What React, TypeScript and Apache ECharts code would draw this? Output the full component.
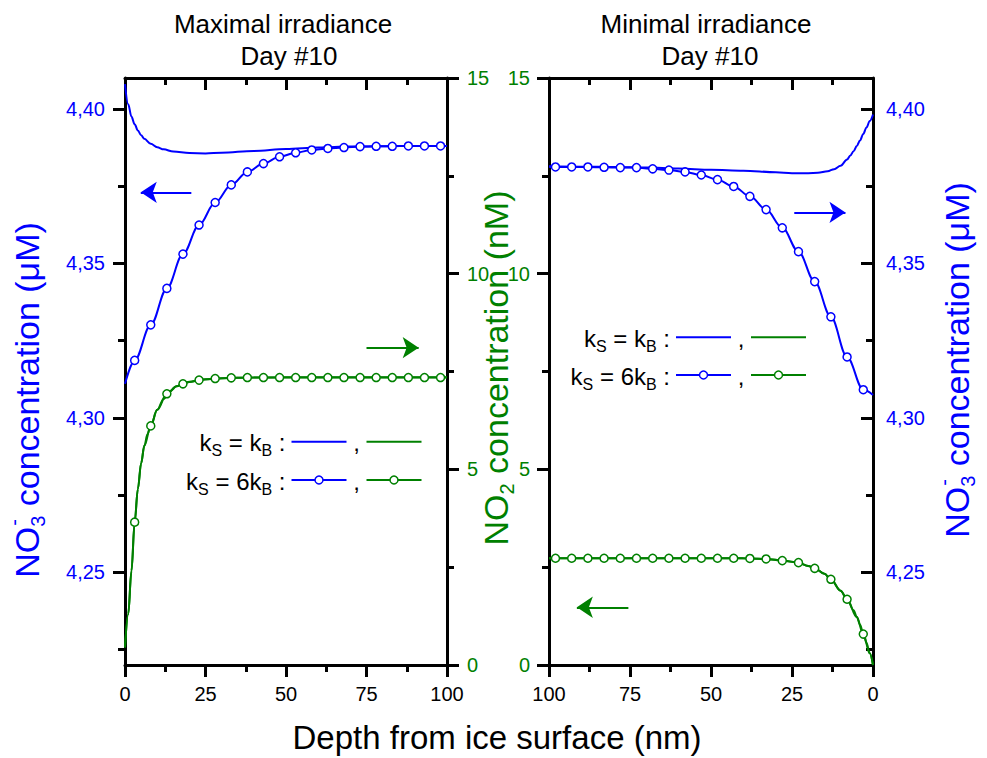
import React, { useEffect, useRef } from 'react';
import * as echarts from 'echarts';

const BLUE = '#0000ff';
const GREEN = '#008000';
const FONT = "'Liberation Sans', Arial, Helvetica, sans-serif";

// ---------- tick values ----------
const no3TickValues = [4.25, 4.3, 4.35, 4.4];
const no3MinorTickValues = [4.225, 4.275, 4.325, 4.375];
// depths (nm) where the ks = 6kB curves carry an open circle
const depthCircles = [3, 8, 13, 18, 23, 28, 33, 38, 43, 48, 53, 58, 63, 68, 73, 78, 83, 88, 93, 98];

// ---------- Maximal irradiance, Day #10 ----------
const maxNo3KbDepth = [0, 1, 2, 3, 4, 5, 6, 8, 10, 12, 15, 20, 25, 30, 40, 50, 60, 70, 80, 90, 100];
const maxNo3Kb = [4.408, 4.4015, 4.3975, 4.395, 4.393, 4.3915, 4.3903, 4.3887, 4.3876, 4.3869, 4.3862, 4.3857, 4.3856, 4.3858, 4.3864, 4.387, 4.3875, 4.3878, 4.3879, 4.388, 4.388];
const maxNo36KbDepth = [0, 3, 8, 13, 18, 23, 28, 33, 38, 43, 48, 53, 58, 63, 68, 73, 78, 83, 88, 93, 98, 100];
const maxNo36Kb = [4.311, 4.3186, 4.3301, 4.3419, 4.353, 4.3624, 4.3697, 4.3754, 4.3796, 4.3823, 4.3845, 4.3858, 4.3867, 4.3872, 4.3875, 4.3878, 4.3879, 4.3879, 4.388, 4.388, 4.388, 4.388];
const maxNo2KbDepth = [0, 1, 2, 3, 4, 5, 6, 7, 8, 10, 12, 14, 16, 18, 20, 25, 30, 40, 50, 60, 70, 80, 90, 100];
const maxNo2Kb = [0.45, 1.3, 2.4, 3.65, 4.5, 5.15, 5.6, 5.9, 6.12, 6.52, 6.8, 7.0, 7.12, 7.19, 7.24, 7.3, 7.33, 7.345, 7.35, 7.35, 7.35, 7.35, 7.35, 7.35];
const maxNo26KbDepth = [0, 1, 2, 3, 4, 5, 6, 8, 10, 13, 16, 18, 20, 23, 28, 33, 38, 43, 48, 53, 58, 63, 68, 73, 78, 83, 88, 93, 98, 100];
const maxNo26Kb = [0.45, 1.3, 2.4, 3.65, 4.5, 5.15, 5.6, 6.11, 6.52, 6.93, 7.12, 7.185, 7.23, 7.28, 7.32, 7.338, 7.346, 7.346, 7.346, 7.346, 7.346, 7.346, 7.346, 7.346, 7.346, 7.346, 7.346, 7.346, 7.346, 7.346];

// ---------- Minimal irradiance, Day #10 ----------
const minNo3KbDepth = [0, 1, 2, 3, 4, 5, 6, 7, 8, 10, 12, 14, 17, 20, 25, 30, 40, 50, 60, 70, 80, 90, 100];
const minNo3Kb = [4.3982, 4.3961, 4.394, 4.3919, 4.3898, 4.388, 4.3863, 4.3849, 4.3836, 4.3816, 4.3805, 4.3798, 4.3793, 4.3792, 4.3792, 4.3795, 4.38, 4.3803, 4.3807, 4.381, 4.3812, 4.3813, 4.3814];
const minNo36KbDepth = [0, 3, 8, 13, 18, 23, 28, 33, 38, 43, 48, 53, 58, 63, 68, 73, 78, 83, 88, 93, 98, 100];
const minNo36Kb = [4.3074, 4.3091, 4.3197, 4.3327, 4.3441, 4.3538, 4.3615, 4.3674, 4.3717, 4.3749, 4.3771, 4.3786, 4.3796, 4.3802, 4.3806, 4.381, 4.381, 4.3811, 4.3812, 4.3812, 4.3812, 4.3813];
const minNo2KbDepth = [0, 1, 2, 3, 4, 5, 6, 8, 10, 13, 15, 18, 20, 23, 25, 28, 30, 35, 40, 50, 60, 70, 80, 90, 100];
const minNo2Kb = [0.0, 0.3, 0.56, 0.8, 1.03, 1.23, 1.4, 1.68, 1.9, 2.19, 2.33, 2.47, 2.53, 2.61, 2.64, 2.67, 2.69, 2.715, 2.725, 2.73, 2.73, 2.73, 2.73, 2.73, 2.73];
const minNo26KbDepth = [0, 1, 3, 5, 8, 10, 13, 15, 18, 20, 23, 28, 33, 38, 43, 48, 53, 58, 63, 68, 73, 78, 83, 88, 93, 98, 100];
const minNo26Kb = [0.0, 0.3, 0.79, 1.22, 1.68, 1.9, 2.19, 2.33, 2.47, 2.53, 2.616, 2.667, 2.71, 2.722, 2.728, 2.728, 2.728, 2.728, 2.728, 2.728, 2.728, 2.728, 2.728, 2.728, 2.728, 2.728, 2.728];

// ---------- arrows [fromDepth, fromValue, toDepth, toValue] ----------
const arrowMaxNo3 = [20.6, 4.373, 4.9, 4.373];
const arrowMaxNo2 = [75, 8.11, 91.2, 8.11];
const arrowMinNo3 = [24.3, 4.3665, 8.5, 4.3665];
const arrowMinNo2 = [75.5, 1.475, 91.4, 1.475];

const fmtNo3 = (v: number) => v.toFixed(2).replace('.', ',');

function measure(text: string, size: number) {
  const ctx = document.createElement('canvas').getContext('2d')!;
  ctx.font = `${size}px ${FONT}`;
  return ctx.measureText(text).width;
}

const axisLine = { show: true, onZero: false, lineStyle: { color: '#000', width: 3 } };
const tickStyle = { color: '#000', width: 3 };

function xAxis(grid: number, pos: 'top' | 'bottom', inverse: boolean) {
  const bottom = pos === 'bottom';
  return {
    type: 'value', gridIndex: grid, position: pos, min: 0, max: 100, interval: 25, inverse,
    axisLine,
    axisTick: { show: true, inside: !bottom, length: 12, lineStyle: tickStyle },
    minorTick: { show: true, splitNumber: 2, length: 7, lineStyle: tickStyle },
    axisLabel: { show: bottom, color: '#000', fontSize: 20, fontFamily: FONT, margin: 19 },
    splitLine: { show: false },
  };
}

function no2Axis(grid: number, pos: 'left' | 'right', margin: number) {
  return {
    type: 'value', gridIndex: grid, position: pos, min: 0, max: 15, interval: 5,
    axisLine,
    axisTick: { show: true, inside: false, length: 12, lineStyle: tickStyle },
    minorTick: { show: true, splitNumber: 2, length: 7, lineStyle: tickStyle },
    axisLabel: { color: GREEN, fontSize: 20, fontFamily: FONT, margin },
    splitLine: { show: false },
  };
}

function no3Axis(grid: number, pos: 'left' | 'right', inside: boolean, margin: number) {
  return {
    type: 'value', gridIndex: grid, position: pos, min: 4.22, max: 4.41,
    axisLine,
    axisTick: { show: true, inside, length: 12, lineStyle: tickStyle, customValues: no3TickValues },
    axisLabel: { show: true, customValues: no3TickValues, formatter: fmtNo3, color: BLUE, fontSize: 20, fontFamily: FONT, margin },
    splitLine: { show: false },
  };
}

function no3MinorAxis(grid: number, pos: 'left' | 'right', inside: boolean) {
  return {
    type: 'value', gridIndex: grid, position: pos, min: 4.22, max: 4.41,
    axisLine: { show: false, onZero: false },
    axisTick: { show: true, inside, length: 7, lineStyle: tickStyle, customValues: no3MinorTickValues },
    axisLabel: { show: false },
    splitLine: { show: false },
  };
}

function curve(xIdx: number, yIdx: number, xs: number[], ys: number[], color: string, circles: boolean, arrow?: number[]) {
  const s: any = {
    type: 'line', xAxisIndex: xIdx, yAxisIndex: yIdx,
    smooth: 0.35, smoothMonotone: 'x', showAllSymbol: true,
    symbol: 'circle', symbolSize: 8,
    itemStyle: { color: '#fff', borderColor: color, borderWidth: 1.5 },
    lineStyle: { color, width: 2 },
    silent: true, emphasis: { disabled: true },
    data: xs.map((x, i) =>
      circles && depthCircles.includes(x) ? { value: [x, ys[i]] } : { value: [x, ys[i]], symbol: 'none' }
    ),
  };
  if (arrow) {
    s.markLine = {
      silent: true, symbol: ['none', 'arrow'], symbolSize: 16,
      label: { show: false }, emphasis: { disabled: true },
      lineStyle: { color, width: 2, type: 'solid' },
      itemStyle: { color },
      data: [[{ coord: [arrow[0], arrow[1]] }, { coord: [arrow[2], arrow[3]] }]],
    };
  }
  return s;
}

function txt(x: number, y: number, text: string, size: number, color = '#000', align = 'center') {
  return {
    type: 'text', x, y, silent: true,
    style: { text, fontSize: size, fontFamily: FONT, fill: color, align, textAlign: align, verticalAlign: 'middle', textVerticalAlign: 'middle' },
  };
}

function rotTitle(cx: number, cy: number, sub: string, rest: string, color: string, minus: boolean) {
  const F = 34, S = 20;
  const wNO = measure('NO', F);
  const wSub = measure(sub, S);
  const wSp = measure(' ', F);
  const wRest = measure(rest, F);
  const total = wNO + wSub + wSp + wRest;
  const x0 = -total / 2;
  const children: any[] = [
    txt(x0, 0, 'NO', F, color, 'left'),
    txt(x0 + wNO, 11, sub, S, color, 'left'),
    txt(x0 + wNO + wSub + wSp, 0, rest, F, color, 'left'),
  ];
  if (minus) children.push(txt(x0 + wNO + 1, -13, '-', S, color, 'left'));
  return { type: 'group', x: cx, y: cy, rotation: Math.PI / 2, silent: true, children };
}

// "k_S = k_B :" built from pieces, right aligned at cx
function ksText(cx: number, y: number, mid: string) {
  const F = 24, S = 16;
  const pieces: [string, boolean][] = [['k', false], ['S', true], ['\u00a0=\u00a0' + mid, false], ['B', true], ['\u00a0:', false]];
  const widths = pieces.map(([t, s]) => measure(t, s ? S : F));
  const total = widths.reduce((a, b) => a + b, 0);
  let x = cx - total;
  const els: any[] = [];
  pieces.forEach(([t, s], i) => {
    els.push(txt(x, s ? y + 8 : y, t, s ? S : F, '#000', 'left'));
    x += widths[i];
  });
  return els;
}

function legend(cx: number, y1: number, y2: number) {
  const rows = [
    { y: y1, mid: 'k', circ: false },
    { y: y2, mid: '6k', circ: true },
  ];
  const els: any[] = [];
  rows.forEach((r) => {
    els.push(...ksText(cx, r.y + 1, r.mid));
    els.push({ type: 'line', silent: true, shape: { x1: cx + 6, y1: r.y, x2: cx + 61, y2: r.y }, style: { stroke: BLUE, lineWidth: 2 } });
    els.push(txt(cx + 71, r.y + 1, ',', 24));
    els.push({ type: 'line', silent: true, shape: { x1: cx + 81, y1: r.y, x2: cx + 136, y2: r.y }, style: { stroke: GREEN, lineWidth: 2 } });
    if (r.circ) {
      els.push({ type: 'circle', silent: true, shape: { cx: cx + 33.5, cy: r.y, r: 4 }, style: { fill: '#fff', stroke: BLUE, lineWidth: 1.5 } });
      els.push({ type: 'circle', silent: true, shape: { cx: cx + 108.5, cy: r.y, r: 4 }, style: { fill: '#fff', stroke: GREEN, lineWidth: 1.5 } });
    }
  });
  return els;
}

function buildOption() {
  return {
    animation: false,
    backgroundColor: '#fff',
    textStyle: { fontFamily: FONT },
    grid: [
      { left: 125, top: 78, width: 322, height: 587 },
      { left: 549, top: 78, width: 324, height: 587 },
    ],
    xAxis: [
      xAxis(0, 'bottom', false),
      xAxis(0, 'top', false),
      xAxis(1, 'bottom', true),
      xAxis(1, 'top', true),
    ],
    yAxis: [
      no3Axis(0, 'left', false, 20),
      no3MinorAxis(0, 'left', false),
      no2Axis(0, 'right', 20),
      no2Axis(1, 'left', 19),
      no3Axis(1, 'right', true, 13),
      no3MinorAxis(1, 'right', true),
    ],
    series: [
      curve(0, 0, maxNo36KbDepth, maxNo36Kb, BLUE, true),
      curve(0, 2, maxNo26KbDepth, maxNo26Kb, GREEN, true),
      curve(0, 0, maxNo3KbDepth, maxNo3Kb, BLUE, false, arrowMaxNo3),
      curve(0, 2, maxNo2KbDepth, maxNo2Kb, GREEN, false, arrowMaxNo2),
      curve(2, 4, minNo36KbDepth, minNo36Kb, BLUE, true),
      curve(2, 3, minNo26KbDepth, minNo26Kb, GREEN, true),
      curve(2, 4, minNo3KbDepth, minNo3Kb, BLUE, false, arrowMinNo3),
      curve(2, 3, minNo2KbDepth, minNo2Kb, GREEN, false, arrowMinNo2),
    ],
    graphic: {
      elements: [
        txt(283, 24, 'Maximal irradiance', 26),
        txt(289, 56, 'Day #10', 26),
        txt(706, 24, 'Minimal irradiance', 26),
        txt(710, 56, 'Day #10', 26),
        txt(497, 737, 'Depth from ice surface (nm)', 33),
        rotTitle(27, 400, '3', 'concentration (\u03bcM)', BLUE, true),
        rotTitle(496, 368, '2', 'concentration (nM)', GREEN, false),
        rotTitle(957, 360, '3', 'concentration (\u03bcM)', BLUE, true),
        ...legend(285.5, 441.7, 480),
        ...legend(670, 337.3, 375),
      ],
    },
  };
}

export default function App() {
  const ref = useRef<HTMLDivElement>(null);
  useEffect(() => {
    document.body.style.margin = '0';
    const chart = echarts.init(ref.current!, null, { renderer: 'svg' });
    chart.setOption(buildOption() as any);
    return () => chart.dispose();
  }, []);
  return <div ref={ref} style={{ width: 987, height: 758 }} />;
}
